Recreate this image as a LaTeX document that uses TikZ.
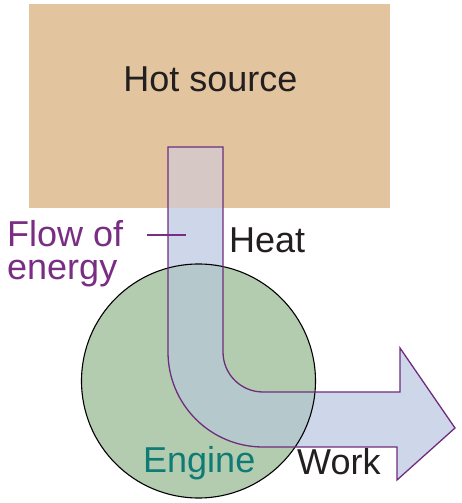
\documentclass[tikz,border=0pt]{standalone}
\usepackage{fontspec}
\setmainfont{Liberation Sans}
\definecolor{tanfill}{RGB}{226,197,158}
\definecolor{greenfill}{RGB}{179,204,176}
\definecolor{flowwhite}{RGB}{206,214,234}
\definecolor{flowtan}{RGB}{214,200,196}
\definecolor{flowgreen}{RGB}{181,201,204}
\definecolor{flowline}{RGB}{110,45,125}
\definecolor{labpurple}{RGB}{122,46,131}
\definecolor{labteal}{RGB}{14,124,116}
\definecolor{labdark}{RGB}{35,31,32}
\tikzset{
  lab/.style={inner sep=0pt, font=\fontsize{36}{40}\selectfont, text=labdark},
}
\begin{document}
\begin{tikzpicture}[x=1pt,y=1pt]
\useasboundingbox (0,0) rectangle (461,503);
% hot source
\path[fill=tanfill] (29,295) rectangle (390,499);
\node[lab, anchor=base] (hot) at (210.5,411) {Hot source};
% engine
\path[fill=greenfill] (198.5,122) circle[radius=117];
% flow of energy arrow
\def\flowpath{(168,356) -- (223,356) -- (223,151) arc[start angle=180, end angle=270, radius=40] -- (400,111) -- (400,155) -- (455,75) -- (397,23) -- (397,56) -- (263,56) arc[start angle=270, end angle=180, radius=95] -- cycle}
\path[fill=flowwhite] \flowpath;
\begin{scope}
  \clip (29,295) rectangle (390,499);
  \path[fill=flowtan] \flowpath;
\end{scope}
\begin{scope}
  \clip (198.5,122) circle[radius=117];
  \path[fill=flowgreen] \flowpath;
\end{scope}
\draw[black, line width=1.1pt] (198.5,122) circle[radius=117];
\draw[flowline, line width=1.3pt, line join=miter] \flowpath;
% labels
\node[lab, anchor=base west] (heat) at (229,250) {Heat};
\node[lab, anchor=base west] (work) at (297,28) {Work};
\node[lab, anchor=base west, text=labteal] (engine) at (143,30) {Engine};
\node[lab, anchor=base west, text=labpurple] (flow) at (7,256) {Flow of};
\node[lab, anchor=base west, text=labpurple] (energy) at (7,223) {energy};
\coordinate (leadA) at (147,268);
\coordinate (leadB) at (186,268);
\draw[labpurple, line width=1.3pt] (leadA) -- (leadB);
\end{tikzpicture}
\end{document}
